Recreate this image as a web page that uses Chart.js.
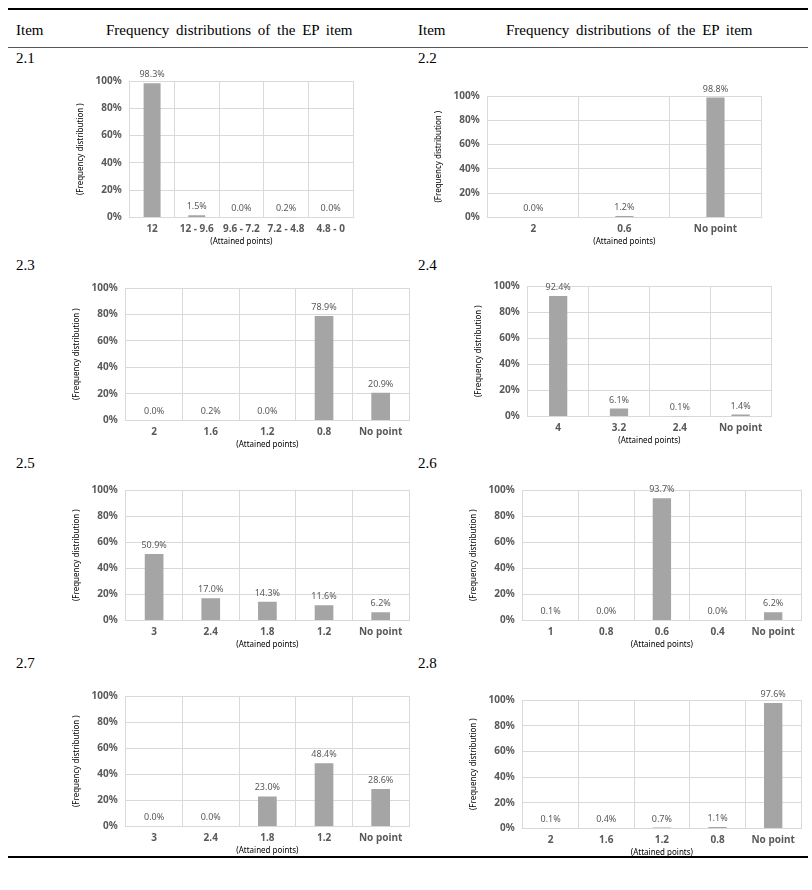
<!DOCTYPE html>
<html><head><meta charset="utf-8">
<script src="https://cdn.jsdelivr.net/npm/chart.js@4"></script>
<style>
body{margin:0;background:#fff;width:812px;height:890px;position:relative;font-family:"Liberation Serif",serif;}
.t{position:absolute;font-size:15px;color:#000;}
.hl{position:absolute;left:8px;width:800px;background:#000;}
.box{position:absolute;}
</style></head><body>
<div class="hl" style="top:8px;height:2px"></div>
<div class="hl" style="top:47px;height:1px;background:#555"></div>
<div class="hl" style="top:856px;height:2px"></div>
<div class="t" style="left:16px;top:22px">Item</div>
<div class="t" style="left:106px;top:22px;word-spacing:3px">Frequency distributions of the EP item</div>
<div class="t" style="left:418px;top:22px">Item</div>
<div class="t" style="left:506px;top:22px;word-spacing:3px">Frequency distributions of the EP item</div>
<div class="t" style="left:16px;top:50px">2.1</div>
<div class="t" style="left:418px;top:50px">2.2</div>
<div class="t" style="left:16px;top:257px">2.3</div>
<div class="t" style="left:418px;top:257px">2.4</div>
<div class="t" style="left:16px;top:455px">2.5</div>
<div class="t" style="left:418px;top:455px">2.6</div>
<div class="t" style="left:16px;top:655px">2.7</div>
<div class="t" style="left:418px;top:655px">2.8</div>
<div class="box" style="left:72px;top:65px;width:285px;height:182px"><canvas id="c1"></canvas></div>
<div class="box" style="left:430px;top:80px;width:335px;height:167px"><canvas id="c2"></canvas></div>
<div class="box" style="left:68px;top:272px;width:345px;height:178px"><canvas id="c3"></canvas></div>
<div class="box" style="left:470px;top:270px;width:305px;height:176px"><canvas id="c4"></canvas></div>
<div class="box" style="left:68px;top:474px;width:345px;height:176px"><canvas id="c5"></canvas></div>
<div class="box" style="left:465px;top:474px;width:340px;height:176px"><canvas id="c6"></canvas></div>
<div class="box" style="left:68px;top:680px;width:345px;height:176px"><canvas id="c7"></canvas></div>
<div class="box" style="left:465px;top:684px;width:340px;height:174px"><canvas id="c8"></canvas></div>
<script>
const cats21=["12","12 - 9.6","9.6 - 7.2","7.2 - 4.8","4.8 - 0"], vals21=[98.3,1.5,0.0,0.2,0.0];
const cats22=["2","0.6","No point"], vals22=[0.0,1.2,98.8];
const cats23=["2","1.6","1.2","0.8","No point"], vals23=[0.0,0.2,0.0,78.9,20.9];
const cats24=["4","3.2","2.4","No point"], vals24=[92.4,6.1,0.1,1.4];
const cats25=["3","2.4","1.8","1.2","No point"], vals25=[50.9,17.0,14.3,11.6,6.2];
const cats26=["1","0.8","0.6","0.4","No point"], vals26=[0.1,0.0,93.7,0.0,6.2];
const cats27=["3","2.4","1.8","1.2","No point"], vals27=[0.0,0.0,23.0,48.4,28.6];
const cats28=["2","1.6","1.2","0.8","No point"], vals28=[0.1,0.4,0.7,1.1,97.6];
const yTicks=[0,20,40,60,80,100];
const F="Noto Sans";
const labelPlugin={id:"vl",afterDatasetsDraw(ch){const ctx=ch.ctx;const m=ch.getDatasetMeta(0);ctx.save();ctx.font="9px "+F;ctx.fillStyle="#595959";ctx.textAlign="center";ctx.textBaseline="bottom";
m.data.forEach((b,i)=>{ctx.fillText(ch.data.datasets[0].data[i].toFixed(1)+"%",b.x,b.y-4);});ctx.restore();}};
function mk(id,cats,vals,barPct){
new Chart(document.getElementById(id),{type:"bar",
data:{labels:cats,datasets:[{data:vals,backgroundColor:"#a5a5a5",barPercentage:barPct,categoryPercentage:1}]},
options:{responsive:true,maintainAspectRatio:false,animation:false,
layout:{padding:{top:16,right:4}},
plugins:{legend:{display:false},tooltip:{enabled:false}},
scales:{
x:{grid:{color:"#d9d9d9",offset:true,drawTicks:false},border:{color:"#d9d9d9"},
ticks:{color:"#595959",font:{family:F,size:10,weight:"bold"},padding:6,maxRotation:0},
title:{display:true,text:"(Attained points)",color:"#000",font:{family:F,size:8},padding:{top:-4,bottom:0}}},
y:{min:0,max:100,afterBuildTicks(ax){ax.ticks=yTicks.map(v=>({value:v}));},
grid:{color:"#d9d9d9",drawTicks:false},border:{display:false},
ticks:{color:"#595959",font:{family:F,size:10,weight:"bold"},padding:8,callback:v=>v+"%"},
title:{display:true,text:"(Frequency distribution )",color:"#000",font:{family:F,size:8},padding:{bottom:2}}}}},
plugins:[labelPlugin]});}
mk("c1",cats21,vals21,0.38);
mk("c2",cats22,vals22,0.2);
mk("c3",cats23,vals23,0.33);
mk("c4",cats24,vals24,0.3);
mk("c5",cats25,vals25,0.33);
mk("c6",cats26,vals26,0.33);
mk("c7",cats27,vals27,0.33);
mk("c8",cats28,vals28,0.33);
</script></body></html>
